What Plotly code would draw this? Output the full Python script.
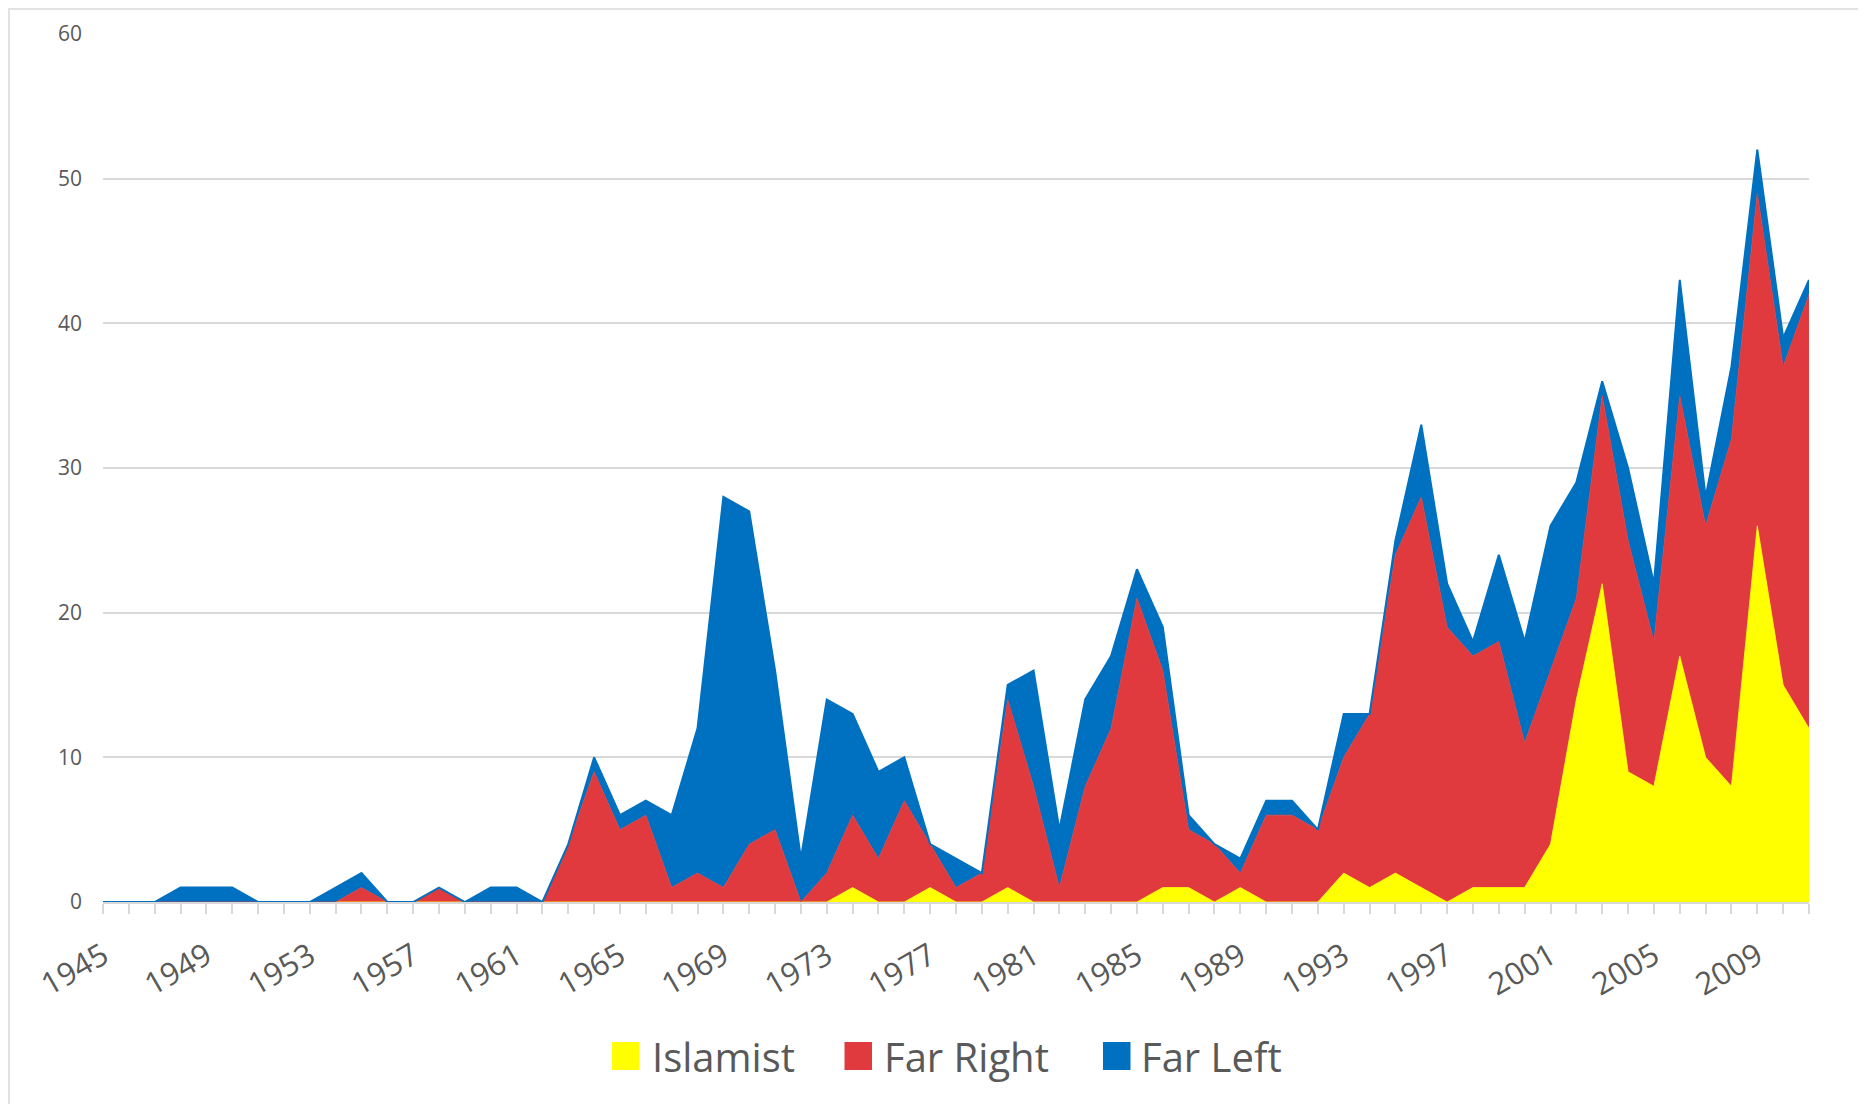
import plotly.graph_objects as go

years = list(range(1945, 2012))
islamist = [0, 0, 0, 0, 0, 0, 0, 0, 0, 0,
            0, 0, 0, 0, 0, 0, 0, 0, 0, 0,
            0, 0, 0, 0, 0, 0, 0, 0, 0, 1,
            0, 0, 1, 0, 0, 1, 0, 0, 0, 0,
            0, 1, 1, 0, 1, 0, 0, 0, 2, 1,
            2, 1, 0, 1, 1, 1, 4, 14, 22, 9,
            8, 17, 10, 8, 26, 15, 12]
far_right = [0, 0, 0, 0, 0, 0, 0, 0, 0, 0,
             1, 0, 0, 1, 0, 0, 0, 0, 4, 9,
             5, 6, 1, 2, 1, 4, 5, 0, 2, 5,
             3, 7, 3, 1, 2, 13, 8, 1, 8, 12,
             21, 15, 4, 4, 1, 6, 6, 5, 8, 12,
             22, 27, 19, 16, 17, 10, 12, 7, 13, 16,
             10, 18, 16, 24, 23, 22, 30]
far_left = [0, 0, 0, 1, 1, 1, 0, 0, 0, 1,
            1, 0, 0, 0, 0, 1, 1, 0, 0, 1,
            1, 1, 5, 10, 27, 23, 11, 3, 12, 7,
            6, 3, 0, 2, 0, 1, 8, 4, 6, 5,
            2, 3, 1, 0, 1, 1, 1, 0, 3, 0,
            1, 5, 3, 1, 6, 7, 10, 8, 1, 5,
            4, 8, 2, 5, 3, 2, 1]
series_names = ["Islamist", "Far Right", "Far Left"]
colors = ["#FFFF00", "#E03A3E", "#0070C0"]

# page body has an 8px margin: work in figure coordinates (= screen - 8)
OFF = 8
W, H = 1866 - OFF, 1104 - OFF
L, R, T, B = 103 - OFF, 1809 - OFF, 34 - OFF, 902 - OFF
FONT = "Open Sans"
GRAY = "#595959"


def px(xs):
    return (xs - OFF - L) / (R - L)


def py(ys):
    return (B - (ys - OFF)) / (B - T)


fig = go.Figure()
for name, vals, col, lw in zip(series_names, [islamist, far_right, far_left], colors, [0.8, 0.8, 2]):
    fig.add_trace(go.Scatter(
        x=years, y=vals, name=name, mode="lines", stackgroup="one",
        line=dict(color=col, width=lw), fillcolor=col, showlegend=False,
        hoverinfo="x+y+name"))

fig.update_layout(
    width=W, height=H,
    margin=dict(l=L, r=W - R, t=T, b=H - B),
    paper_bgcolor="white", plot_bgcolor="white",
    font=dict(family=FONT, color=GRAY),
    showlegend=False,
)
fig.update_xaxes(
    range=[1945, 2011], tick0=1945, dtick=4,
    tickangle=-30, tickfont=dict(size=31, color=GRAY, family=FONT),
    ticks="outside", ticklen=10, tickcolor="#D9D9D9", tickwidth=1.5,
    showline=True, linecolor="#D9D9D9", linewidth=1.5,
    showgrid=False, zeroline=False, ticklabelstandoff=12,
    minor=dict(dtick=1, tick0=1945, ticks="outside", ticklen=10,
               tickcolor="#D9D9D9", tickwidth=1.5, showgrid=False),
)
fig.update_yaxes(
    range=[0, 60], dtick=10, tickfont=dict(size=21, color=GRAY, family=FONT),
    showgrid=True, gridcolor="#D9D9D9", gridwidth=1.5,
    zeroline=False, showline=False, ticks="", ticklabelstandoff=20,
)

# chart border (light gray frame), drawn just inside the figure's top-left edge
fig.add_shape(type="rect", xref="paper", yref="paper",
              x0=(1 - L) / (R - L), x1=(W + 20 - L) / (R - L),
              y0=(B - (H + 20)) / (B - T), y1=(B - 1) / (B - T),
              line=dict(color="#D9D9D9", width=1.5), layer="below")

# manual legend
legend_items = [(612, 654), (844.5, 886), (1103, 1143)]
for (sx, tx), name, col in zip(legend_items, series_names, colors):
    fig.add_shape(type="rect", xref="paper", yref="paper",
                  x0=px(sx), x1=px(sx + 27.5), y0=py(1070), y1=py(1042),
                  line=dict(width=0), fillcolor=col)
    fig.add_annotation(xref="paper", yref="paper", x=px(tx - 4), y=py(1056),
                       text=name, showarrow=False, xanchor="left", yanchor="middle",
                       font=dict(size=40, color=GRAY, family=FONT))

fig.write_html("out.html")
